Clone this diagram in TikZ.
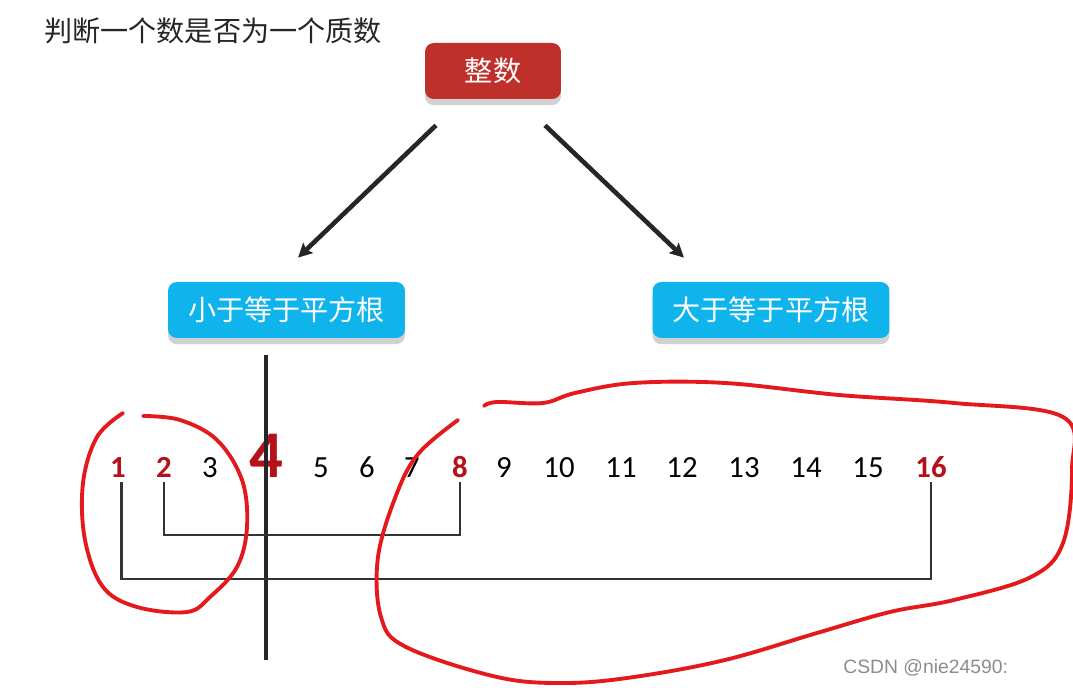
\documentclass[tikz,border=0pt]{standalone}
\usepackage{fontspec}
\newfontfamily\cjk{Noto Sans CJK SC}
\newfontfamily\numfont{Carlito}
\newfontfamily\wmfont{Liberation Sans}
\usetikzlibrary{positioning, arrows.meta, shadows, calc}
\definecolor{boxred}{HTML}{C0302B}
\definecolor{boxblue}{HTML}{10B4EC}
\definecolor{numred}{HTML}{B3121A}
\definecolor{penred}{HTML}{E3191B}

\begin{document}
\begin{tikzpicture}[x=0.02cm, y=-0.02cm,
    box/.style = {shape=rectangle, rounded corners=5pt, align=center,
      text=white, font=\cjk\fontsize{16}{18}\selectfont, minimum height=1.12cm,
      drop shadow={shadow xshift=0pt, shadow yshift=-3.5pt, fill=black!18, opacity=1}},
    redbox/.style = {box, fill=boxred, minimum width=2.72cm},
    bluebox/.style = {box, fill=boxblue, minimum width=4.74cm},
    line/.style = {draw=black!85, line width=2.6pt, -{Stealth[length=8pt, width=8pt, inset=1.5pt]}},
    num/.style = {font=\numfont\fontsize{17.5}{20}\selectfont, inner sep=0pt, anchor=base},
    keynum/.style = {num, text=numred, font=\numfont\bfseries\fontsize{17.5}{20}\selectfont},
    bracket/.style = {draw=black!80, line width=1.3pt},
    pen/.style = {draw=penred, line width=2.2pt, line cap=round, line join=round}]

    \useasboundingbox (0,0) rectangle (1073,688);

    \node[anchor=west, inner sep=0pt, font=\cjk\fontsize{16}{18}\selectfont, text=black!85] (title) at (44,31) {判断一个数是否为一个质数};

    \node[redbox] (whole) at (493,71) {整数};
    \node[bluebox] (small) at (286.5,310) {小于等于平方根};
    \node[bluebox] (large) at (771,310) {大于等于平方根};

    \draw[line] ($(whole.south)+(-57,26)$) -- ($(small.north)+(11.5,-24)$);
    \draw[line] ($(whole.south)+(52,26)$) -- ($(large.north)+(-87,-24)$);

    \foreach \n/\x in {3/210, 5/321, 6/367, 7/412, 9/504, 10/559, 11/621, 12/682, 13/744, 14/806, 15/868}
      \node[num] (n\n) at (\x,478) {\n};
    \foreach \n/\x in {1/118, 2/164, 8/460, 16/931}
      \node[keynum] (n\n) at (\x,478) {\n};
    \node[keynum, font=\numfont\bfseries\fontsize{38}{40}\selectfont] (n4) at (266,478) {4};

    \draw[draw=black!85, line width=2.3pt] (266,355) -- (266,660);

    \draw[bracket] ([yshift=-2pt]n2.south) -- ++(0,53) -| ([yshift=-2pt]n8.south);
    \draw[bracket] ([xshift=2pt, yshift=-2pt]n1.south) -- ++(0,97) -| ([yshift=-2pt]n16.south);

    % hand-drawn marks
    \draw[pen] plot[smooth, tension=0.6] coordinates {(123,413) (97,437) (83,483) (85,540) (103,587) (137,607) (187,612) (210,597) (237,567) (247,527) (242,480) (217,440) (180,420) (143,416)};
    \draw[pen] plot[smooth, tension=0.6] coordinates {(458,420) (419,453) (397,493) (378,557) (381,617) (406,647) (497,677) (565,683) (634,677) (725,660) (817,633) (890,612) (954,600) (1031,577) (1063,543) (1072,470) (1063,417) (954,403) (839,395) (725,383) (634,383) (575,393) (543,403) (497,402) (484,406)};

    \node[anchor=west, inner sep=0pt, font=\wmfont\fontsize{11}{13}\selectfont, text=black!45] (mark) at (843,668) {CSDN @nie24590:};

\end{tikzpicture}
\end{document}
